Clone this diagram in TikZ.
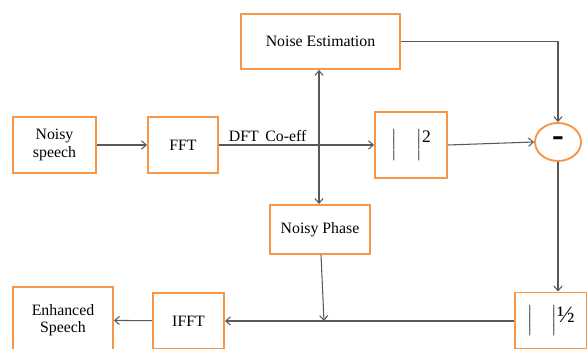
\documentclass[tikz,border=0pt]{standalone}
\usepackage{amsmath}
\usepackage{fontspec}
\setmainfont{Liberation Serif}
\usepackage{tikz}
\usetikzlibrary{arrows.meta, shapes.geometric}
\definecolor{boxorange}{HTML}{F79646}
\definecolor{wiregray}{HTML}{595959}
\tikzset{blk/.style 2 args={draw=boxorange, line width=1.6pt, fill=white, inner sep=0pt, align=center,
    minimum width=#1*0.03cm, minimum height=#2*0.03cm, font=\fontsize{13.5}{15}\selectfont},
  wire/.style={draw=wiregray, line width=0.9pt, -{Straight Barb[length=4pt,width=7pt]}}}

\begin{document}
\begin{tikzpicture}[x=0.03cm, y=-0.03cm]
\clip (0,0) rectangle (587,349);
\useasboundingbox (0,0) rectangle (587,349);
% blocks
\node[blk={83}{56}] (noisy) at (54.5,145) {Noisy\\speech};
\node[blk={70}{56}] (fft) at (183,145) {FFT};
\node[blk={159}{55}] (est) at (320.5,41.5) {Noise Estimation};
\node[blk={72}{66}] (sq) at (411,145) {$\Big|$\hspace{17pt}$\Big|$\raisebox{6pt}{\fontsize{15}{15}\selectfont 2}};
\node[draw=boxorange, line width=1.6pt, ellipse, minimum width=46*0.03cm, minimum height=38*0.03cm,
  inner sep=0pt, font=\fontsize{30}{30}\selectfont\bfseries] (minus) at (558,142) {-};
\node[blk={100}{49}] (phase) at (320,229.5) {Noisy Phase};
\node[blk={72}{56}] (root) at (551,320.5) {$\Big|$\hspace{16pt}$\Big|$\raisebox{2pt}{\fontsize{20}{20}\selectfont ½}};
\node[blk={71}{56}] (ifft) at (188.5,321) {IFFT};
\node[blk={100}{66}] (enh) at (63,320) {Enhanced\\Speech};
% connectors
\coordinate (tap) at (324,321);
\draw[wire] (noisy) -- (fft);
\draw[wire] (fft) -- node[pos=0, above right, font=\fontsize{13.5}{15}\selectfont, xshift=6pt, inner sep=2pt] {DFT\, Co-eff} (sq);
\draw[wire, {Straight Barb[length=4pt,width=7pt]}-{Straight Barb[length=4pt,width=7pt]}] (est.south -| 319,0) -- (phase.north -| 319,0);
\draw[wire] (est.east) -- (est.east -| minus.north) -- (minus.north);
\draw[wire] (sq.east) -- (minus.west);
\draw[wire] (minus.south) -- (minus.south |- root.north);
\draw[wire] (root.west |- tap) -- (ifft.east);
\draw[wire] (phase.south -| 321,0) -- (tap);
\draw[wire] (ifft) -- (enh);
\end{tikzpicture}
\end{document}
